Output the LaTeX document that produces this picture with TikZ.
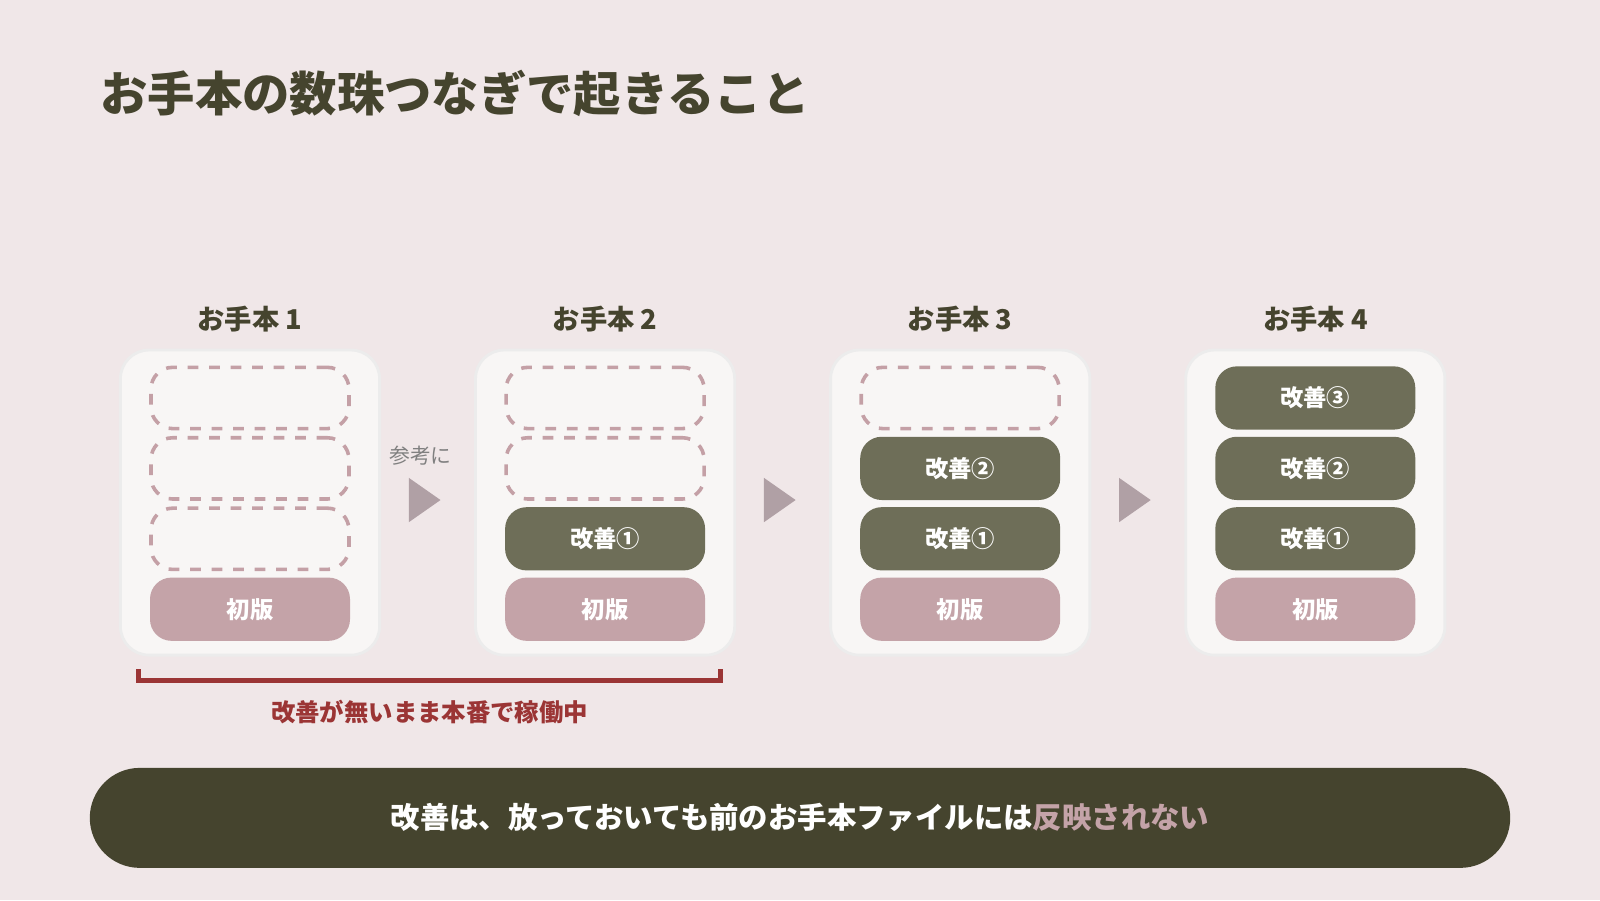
\documentclass[tikz,border=0pt]{standalone}
\usepackage{fontspec}
\setmainfont{Noto Sans CJK JP}
\usetikzlibrary{shapes.geometric}
\definecolor{bgc}{HTML}{F0E7E8}
\definecolor{olive}{HTML}{45442E}
\definecolor{moss}{HTML}{6E6E58}
\definecolor{rose}{HTML}{C4A3A8}
\definecolor{cardc}{HTML}{F8F6F5}
\definecolor{dashc}{HTML}{C4A0A6}
\definecolor{arrc}{HTML}{B0A0A5}
\definecolor{redc}{HTML}{9B3535}
\tikzset{
  card/.style={draw=white!85!gray,line width=0.8pt,fill=cardc,rounded corners=8pt,minimum width=2.54cm,minimum height=2.99cm},
  slot/.style={rounded corners=6pt,minimum width=1.96cm,minimum height=0.62cm,text=white,font=\fontsize{6.5}{7}\selectfont\bfseries},
  empty/.style={slot,draw=dashc,dashed,line width=1pt,fill=cardc,minimum width=1.94cm,minimum height=0.6cm},
  kaizen/.style={slot,fill=moss},
  first/.style={slot,fill=rose},
  head/.style={text=olive,font=\fontsize{7.6}{8}\selectfont\bfseries},
  nextarr/.style={isosceles triangle,fill=arrc,minimum width=0.34cm,minimum height=0.31cm,inner sep=0pt,isosceles triangle apex angle=70}
}
\begin{document}
\begin{tikzpicture}
  \fill[bgc] (0,0) rectangle (15.68,-8.82);
  \useasboundingbox (0,0) rectangle (15.68,-8.82);
  \node[anchor=west,text=olive,font=\fontsize{13.2}{14}\selectfont\bfseries] (title) at (0.86,-0.92) {お手本の数珠つなぎで起きること};
  % columns
  \foreach \i/\x in {1/2.45,2/5.93,3/9.41,4/12.89}{
    \node[head] (h\i) at (\x,-3.13) {お手本 \i};
    \node[card] (c\i) at (\x,-4.925) {};
    \node[first] (s\i a) at (\x,-5.97) {初版};
  }
  \node[empty] (s1b) at (2.45,-5.28) {};
  \node[empty] (s1c) at (2.45,-4.59) {};
  \node[empty] (s1d) at (2.45,-3.9) {};
  \node[kaizen] (s2b) at (5.93,-5.28) {改善①};
  \node[empty] (s2c) at (5.93,-4.59) {};
  \node[empty] (s2d) at (5.93,-3.9) {};
  \node[kaizen] (s3b) at (9.41,-5.28) {改善①};
  \node[kaizen] (s3c) at (9.41,-4.59) {改善②};
  \node[empty] (s3d) at (9.41,-3.9) {};
  \node[kaizen] (s4b) at (12.89,-5.28) {改善①};
  \node[kaizen] (s4c) at (12.89,-4.59) {改善②};
  \node[kaizen] (s4d) at (12.89,-3.9) {改善③};
  % arrows
  \node[nextarr] (a1) at (4.12,-4.9) {};
  \node[nextarr] (a2) at (7.6,-4.9) {};
  \node[nextarr] (a3) at (11.08,-4.9) {};
  \node[text=gray,font=\fontsize{5.8}{6}\selectfont] (ref) at (4.12,-4.47) {参考に};
  % bracket
  \coordinate (bl) at (1.36,-6.56);
  \coordinate (br) at (7.06,-6.56);
  \draw[redc,line width=1.3pt] (bl) -- ++(0,-0.11) -| (br);
  \node[text=redc,font=\fontsize{6.8}{7}\selectfont\bfseries] (note) at (4.21,-6.98) {改善が無いまま本番で稼働中};
  % summary
  \node[fill=olive,rounded corners=0.49cm,minimum width=13.92cm,minimum height=0.98cm,text=white,font=\fontsize{8.2}{9}\selectfont\bfseries] (sum) at (7.84,-8.015) {改善は、放っておいても前のお手本ファイルには\textcolor{rose}{反映されない}};
\end{tikzpicture}
\end{document}
